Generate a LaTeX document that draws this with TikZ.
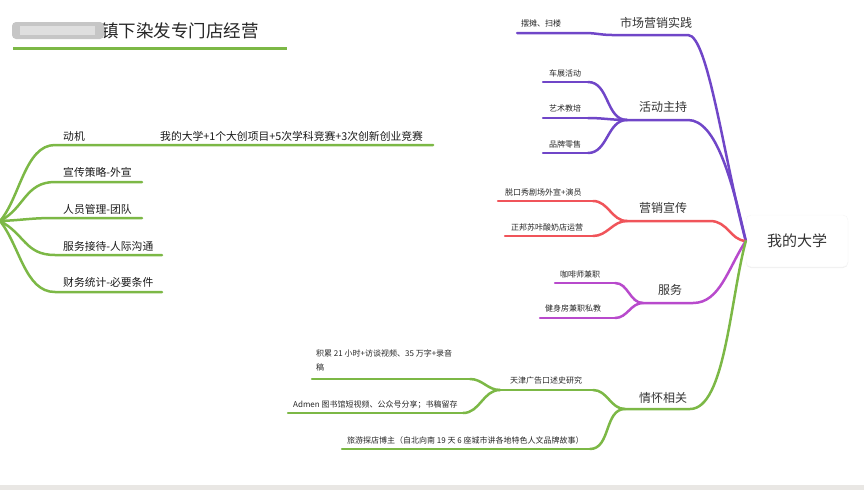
\documentclass[tikz,border=0pt]{standalone}
\usepackage{fontspec}
\setmainfont{Noto Sans CJK SC}
\usetikzlibrary{shadows}
\definecolor{mmpurple}{RGB}{112,70,200}
\definecolor{mmred}{RGB}{240,84,90}
\definecolor{mmmagenta}{RGB}{184,74,204}
\definecolor{mmgreen}{RGB}{124,184,70}
\definecolor{mmband}{RGB}{233,231,228}
\begin{document}
\begin{tikzpicture}[x=1pt, y=-1pt, line cap=round,
  sm/.style={anchor=base west, inner sep=0pt, text=black!85, font=\fontsize{8}{14}\selectfont},
  md/.style={anchor=base west, inner sep=0pt, text=black!80, font=\fontsize{12}{14}\selectfont},
  lf/.style={anchor=base west, inner sep=0pt, text=black!90, font=\fontsize{10.8}{13}\selectfont},
  br/.style={line width=2.5pt},
  rootbox/.style={rounded corners=5pt, fill=white, draw=black!4, minimum width=102pt, minimum height=52pt,
    drop shadow={shadow xshift=0pt, shadow yshift=-1pt, opacity=.12}, font=\fontsize{15}{18}\selectfont, text=black!80}]
\useasboundingbox (0,0) rectangle (864,490);
\fill[mmband] (0,485) rectangle (864,490);

% title
\node (title)[anchor=base west, inner sep=0pt, text=black!85, font=\fontsize{17.5}{20}\selectfont] at (101,37) {镇下染发专门店经营};
\fill[gray!45, rounded corners=4pt] (12,22) rectangle (104,39);
\fill[gray!25] (20,26) rectangle (95,35);
\draw[mmgreen, line width=3pt, line cap=butt] (13,48) -- (287,48);

% root
\node (uni)[rootbox] at (797,241) {我的大学};

% right side labels
\node (baitan)[sm] at (521,26) {摆摊、扫楼};
\node (shichang)[md] at (620,27) {市场营销实践};
\node (chezhan)[sm] at (549,76) {车展活动};
\node (yishu)[sm] at (549,111) {艺术教培};
\node (pinpai)[sm] at (549,147) {品牌零售};
\node (huodong)[md] at (639,111) {活动主持};
\node (tuokou)[sm] at (505,195) {脱口秀剧场外宣+演员};
\node (zhengbang)[sm] at (511,230) {正邦苏咔酸奶店运营};
\node (yingxiao)[md] at (639,212) {营销宣传};
\node (kafei)[sm] at (560,277) {咖啡师兼职};
\node (jianshen)[sm] at (545,311) {健身房兼职私教};
\node (fuwu)[md] at (658,294) {服务};
\node (jilei)[sm, align=left, anchor=north west] at (316,350) {积累 21 小时+访谈视频、35 万字+录音\\稿};
\node (admen)[sm] at (293,407) {Admen 图书馆短视频、公众号分享；书稿留存};
\node (tianjin)[sm] at (510,383) {天津广告口述史研究};
\node (qinghuai)[md] at (639,402) {情怀相关};
\node (lvyou)[sm] at (347,443) {旅游探店博主（自北向南 19 天 6 座城市讲各地特色人文品牌故事）};

% left side labels
\node (dongji)[lf] at (63,140) {动机};
\node (daxue)[lf] at (160,140) {我的大学+1个大创项目+5次学科竞赛+3次创新创业竞赛};
\node (xuanchuan)[lf] at (63,176) {宣传策略-外宣};
\node (renyuan)[lf] at (63,213) {人员管理-团队};
\node (jiedai)[lf] at (63,250) {服务接待-人际沟通};
\node (caiwu)[lf] at (63,286) {财务统计-必要条件};

% junctions and free ends
\coordinate (jm) at (688,35);  \coordinate (ja) at (627,120); \coordinate (jp) at (627,221);
\coordinate (js) at (643,303); \coordinate (jf) at (625,409); \coordinate (jt) at (500,390);
\coordinate (lroot) at (0,221);
\coordinate (e1) at (517,33);  \coordinate (e2) at (543,82);  \coordinate (e3) at (543,118);
\coordinate (e4) at (543,153); \coordinate (e5) at (498,201); \coordinate (e6) at (505,236);
\coordinate (e7) at (555,283); \coordinate (e8) at (540,318); \coordinate (e9) at (312,379);
\coordinate (e10) at (288,413); \coordinate (e11) at (342,449);

% purple
\draw[br, mmpurple] (uni.west) .. controls (724,160) and (708,35) .. (jm) -- (612,35)
  to[out=180,in=0] (585,33) -- (e1);
\draw[br, mmpurple] (uni.west) .. controls (732,180) and (716,120) .. (688,120) -- (ja);
\path[br, mmpurple] (ja) edge[out=180,in=0] (588,82) (588,82) edge (e2)
  (ja) edge[out=180,in=0] (588,118) (588,118) edge (e3)
  (ja) edge[out=180,in=0] (588,153) (588,153) edge (e4);
% red
\draw[br, mmred] (uni.west) .. controls (730,240) and (728,221) .. (710,221) -- (jp);
\path[br, mmred] (jp) edge[out=180,in=0] (593,201) (593,201) edge (e5)
  (jp) edge[out=180,in=0] (593,236) (593,236) edge (e6);
% magenta
\draw[br, mmmagenta] (uni.west) .. controls (728,268) and (720,303) .. (693,303) -- (js);
\path[br, mmmagenta] (js) edge[out=180,in=0] (615,283) (615,283) edge (e7)
  (js) edge[out=180,in=0] (615,318) (615,318) edge (e8);
% green right
\draw[br, mmgreen] (uni.west) .. controls (730,300) and (725,409) .. (690,409) -- (jf);
\path[br, mmgreen] (jf) edge[out=180,in=0] (593,390) (593,390) edge (jt)
  (jf) edge[out=180,in=0] (590,449) (590,449) edge (e11)
  (jt) edge[out=180,in=0] (470,379) (470,379) edge (e9)
  (jt) edge[out=180,in=0] (463,413) (463,413) edge (e10);

% green left
\draw[br, mmgreen] (lroot) .. controls (20,198) and (25,145) .. (55,145) -- (433,145);
\draw[br, mmgreen] (lroot) .. controls (25,208) and (25,182) .. (55,182) -- (142,182);
\draw[br, mmgreen] (lroot) .. controls (25,220) and (30,218) .. (55,218) -- (142,218);
\draw[br, mmgreen] (lroot) .. controls (25,234) and (25,255) .. (55,255) -- (162,255);
\draw[br, mmgreen] (lroot) .. controls (20,246) and (25,292) .. (55,292) -- (162,292);
\end{tikzpicture}
\end{document}
